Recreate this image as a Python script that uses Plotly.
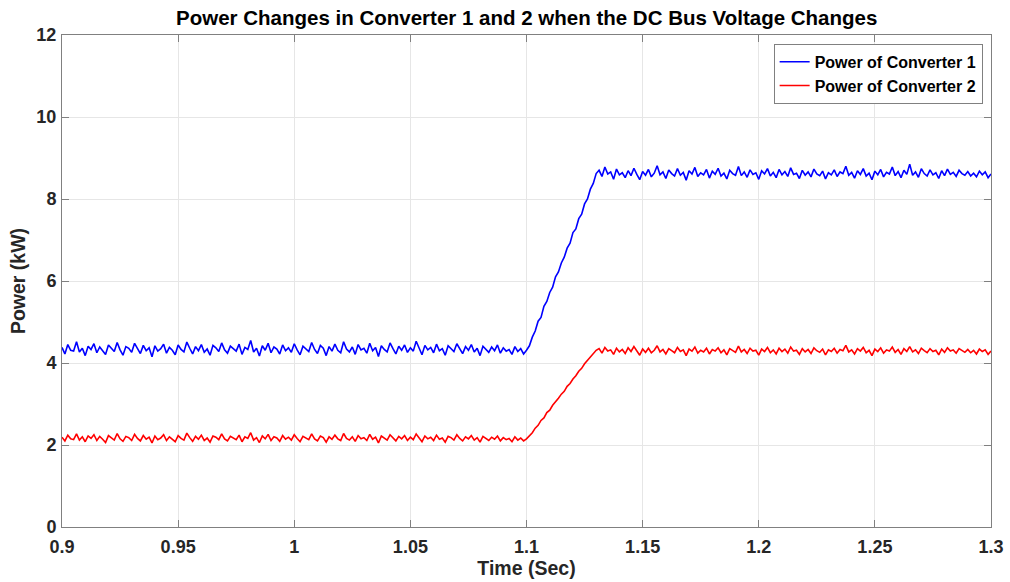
import numpy as np
import plotly.graph_objects as go

T_START = 0.9
T_STEP = 0.00125

conv1_before = [
    4.38,4.22,4.45,4.31,4.29,4.52,4.27,4.36,4.18,4.41,4.33,4.47,4.25,4.39,4.30,4.21,4.44,4.35,4.28,4.50,
    4.32,4.19,4.40,4.36,4.26,4.48,4.34,4.23,4.43,4.30,4.37,4.15,4.42,4.29,4.35,4.46,4.24,4.38,4.31,4.20,
    4.44,4.33,4.27,4.51,4.36,4.22,4.40,4.30,4.45,4.26,4.34,4.19,4.43,4.37,4.28,4.49,4.32,4.24,4.41,4.35,
    4.29,4.46,4.21,4.38,4.33,4.55,4.27,4.36,4.17,4.42,4.31,4.48,4.25,4.39,4.34,4.22,4.44,4.30,4.37,4.26,
    4.47,4.32,4.20,4.41,4.35,4.28,4.50,4.33,4.23,4.43,4.36,4.18,4.40,4.29,4.46,4.31,4.25,4.52,4.34,4.27,
    4.39,4.21,4.45,4.32,4.36,4.24,4.48,4.30,4.38,4.16,4.42,4.33,4.27,4.49,4.35,4.22,4.41,4.31,4.44,4.26,
    4.37,4.29,4.53,4.34,4.20,4.43,4.32,4.38,4.25,4.46,4.30,4.35,4.19,4.42,4.36,4.28,4.47,4.33,4.23,4.40,
    4.31,4.45,4.27,4.36,4.18,4.41,4.34,4.26,4.39,4.30,
    4.44,4.24,4.37,4.29,4.33,4.21,4.40,4.28,4.35,4.22,4.31,
]
conv1_ramp = [
    4.42,4.63,4.78,5.02,5.11,5.38,5.50,5.72,5.85,6.10,6.22,6.44,
    6.58,6.80,6.92,7.18,7.27,7.52,7.63,7.88,8.00,8.24,8.38,8.62,
]
conv1_after = [
    8.70,8.55,8.78,8.61,8.66,8.48,8.73,8.59,8.64,8.52,8.69,8.57,8.75,8.60,8.47,8.67,8.58,8.72,8.54,8.63,
    8.81,8.59,8.66,8.50,8.71,8.62,8.56,8.74,8.58,8.65,8.46,8.69,8.61,8.77,8.55,8.64,8.59,8.72,8.51,8.68,
    8.60,8.75,8.56,8.63,8.49,8.70,8.62,8.58,8.79,8.57,8.66,8.53,8.71,8.60,8.64,8.48,8.69,8.61,8.74,8.56,
    8.65,8.52,8.72,8.59,8.67,8.55,8.76,8.60,8.63,8.50,8.70,8.58,8.66,8.54,8.73,8.61,8.57,8.68,8.49,8.64,
    8.59,8.71,8.55,8.66,8.62,8.80,8.58,8.65,8.51,8.69,8.60,8.74,8.56,8.63,8.47,8.68,8.59,8.72,8.54,8.65,
    8.61,8.78,8.57,8.67,8.52,8.70,8.60,8.85,8.58,8.66,8.53,8.74,8.62,8.56,8.71,8.59,8.64,8.50,8.69,8.57,
    8.73,8.60,8.65,8.55,8.70,8.62,8.58,8.67,8.56,8.63,8.54,8.68,8.59,8.66,8.52,8.61,
]

conv2_before = [
    2.19,2.10,2.24,2.15,2.13,2.27,2.12,2.20,2.08,2.22,2.16,2.25,2.11,2.21,2.14,2.06,2.23,2.17,2.12,2.28,
    2.15,2.09,2.21,2.18,2.11,2.26,2.16,2.10,2.23,2.14,2.19,2.05,2.22,2.13,2.17,2.25,2.11,2.20,2.15,2.08,
    2.23,2.16,2.12,2.29,2.18,2.09,2.21,2.14,2.24,2.11,2.17,2.07,2.22,2.19,2.13,2.27,2.15,2.10,2.21,2.17,
    2.13,2.24,2.08,2.20,2.16,2.30,2.12,2.18,2.06,2.22,2.15,2.26,2.11,2.20,2.17,2.09,2.23,2.14,2.19,2.12,
    2.25,2.16,2.08,2.21,2.17,2.13,2.27,2.15,2.10,2.22,2.18,2.07,2.20,2.14,2.24,2.15,2.11,2.28,2.16,2.12,
    2.20,2.09,2.23,2.15,2.18,2.11,2.26,2.14,2.19,2.05,2.22,2.16,2.12,2.25,2.17,2.10,2.21,2.15,2.23,2.11,
    2.19,2.13,2.27,2.16,2.08,2.22,2.15,2.19,2.11,2.24,2.14,2.17,2.07,2.21,2.18,2.12,2.25,2.16,2.10,2.20,
    2.15,2.23,2.12,2.18,2.07,2.21,2.16,2.11,2.19,2.14,2.22,2.10,2.18,2.13,2.16,2.08,2.20,2.12,2.17,2.10,2.15,
]
conv2_ramp = [
    2.22,2.30,2.41,2.48,2.60,2.66,2.79,2.85,2.97,3.05,3.14,3.24,
    3.31,3.43,3.50,3.61,3.69,3.80,3.87,3.98,4.06,4.16,4.22,4.31,
]
conv2_after = [
    4.35,4.24,4.38,4.29,4.32,4.21,4.36,4.27,4.33,4.23,4.37,4.28,4.40,4.30,4.19,4.34,4.26,4.36,4.25,4.31,
    4.42,4.27,4.33,4.22,4.35,4.30,4.25,4.38,4.28,4.32,4.18,4.34,4.29,4.39,4.24,4.31,4.27,4.36,4.22,4.33,
    4.29,4.37,4.25,4.32,4.20,4.35,4.30,4.26,4.41,4.27,4.33,4.23,4.36,4.29,4.31,4.19,4.34,4.28,4.38,4.25,
    4.32,4.22,4.36,4.28,4.34,4.24,4.39,4.29,4.31,4.21,4.35,4.27,4.33,4.23,4.37,4.30,4.26,4.34,4.20,4.32,
    4.28,4.36,4.24,4.33,4.30,4.43,4.27,4.32,4.22,4.35,4.29,4.38,4.25,4.31,4.18,4.34,4.28,4.37,4.24,4.32,
    4.29,4.39,4.26,4.33,4.21,4.35,4.28,4.40,4.27,4.32,4.23,4.36,4.30,4.25,4.35,4.28,4.31,4.20,4.34,4.26,
    4.37,4.29,4.32,4.24,4.35,4.30,4.26,4.33,4.25,4.31,4.22,4.34,4.28,4.32,4.21,4.29,
]

conv1 = conv1_before + conv1_ramp + conv1_after
conv2 = conv2_before + conv2_ramp + conv2_after
time = np.round(T_START + np.arange(len(conv1)) * T_STEP, 6)

x_ticks = [0.9, 0.95, 1, 1.05, 1.1, 1.15, 1.2, 1.25, 1.3]
x_tick_labels = ["0.9", "0.95", "1", "1.05", "1.1", "1.15", "1.2", "1.25", "1.3"]
y_ticks = [0, 2, 4, 6, 8, 10, 12]

FONT = "Liberation Sans, Arial, sans-serif"
TXT = "#262626"

fig = go.Figure()
fig.add_trace(go.Scatter(x=time, y=conv1, mode="lines", name="<b>Power of Converter 1</b>",
                         line=dict(color="#0000ff", width=1.6)))
fig.add_trace(go.Scatter(x=time, y=conv2, mode="lines", name="<b>Power of Converter 2</b>",
                         line=dict(color="#ff0000", width=1.6)))

axis_common = dict(showline=True, mirror="ticks", linecolor="#808080", linewidth=1,
                   ticks="inside", ticklen=7, tickcolor="#808080", automargin=False,
                   showgrid=True, gridcolor="#e6e6e6", gridwidth=1, zeroline=False,
                   tickfont=dict(family=FONT, size=18, color=TXT, weight="bold"))

fig.update_layout(
    width=1010, height=582,
    margin=dict(l=62, r=19, t=35, b=55),
    paper_bgcolor="white", plot_bgcolor="white",
    title=dict(text="<b>Power Changes in Converter 1 and 2 when the DC Bus Voltage Changes</b>",
               x=0.5215, xanchor="center", y=0.97, yanchor="middle",
               font=dict(family=FONT, size=20.5, color="#000000")),
    xaxis=dict(range=[0.9, 1.3], tickvals=x_ticks, ticktext=x_tick_labels, ticklabelstandoff=3,
               title=dict(text="<b>Time (Sec)</b>", font=dict(family=FONT, size=19.5, color=TXT), standoff=3),
               **axis_common),
    yaxis=dict(range=[0, 12], tickvals=y_ticks, ticklabelstandoff=1,
               title=dict(text="<b>Power (kW)</b>", font=dict(family=FONT, size=19.5, color=TXT), standoff=5),
               **axis_common),
    legend=dict(x=0.991, xanchor="right", y=0.982, yanchor="top",
                bgcolor="white", bordercolor="#808080", borderwidth=1,
                font=dict(family=FONT, size=16, color="#000000"),
                tracegroupgap=0, itemwidth=30),
    showlegend=True,
)

fig.write_html("out.html")
